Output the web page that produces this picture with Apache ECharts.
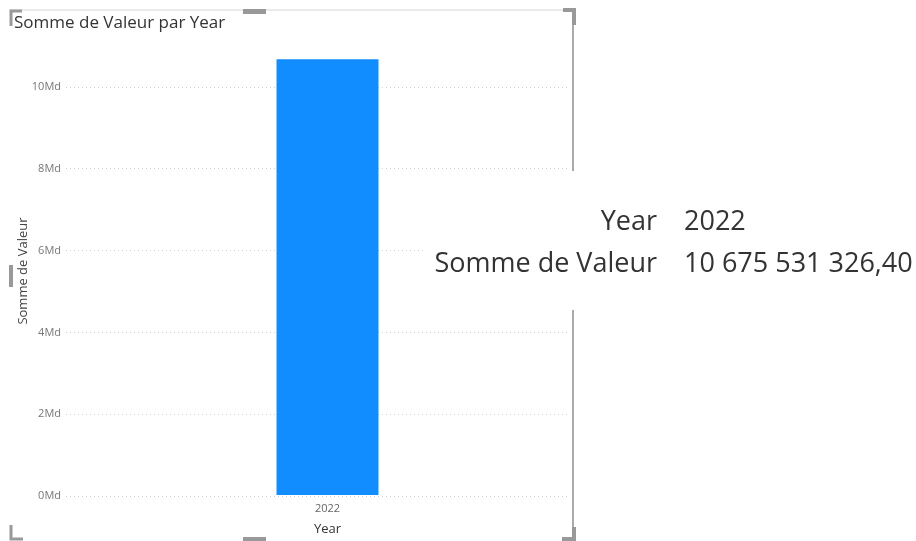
<!DOCTYPE html>
<html>
<head>
<meta charset="utf-8">
<script src="https://cdn.jsdelivr.net/npm/echarts@6/dist/echarts.min.js"></script>
<style>
  html, body { margin: 0; padding: 0; background: #fff; }
  #chart { width: 916px; height: 541px; }
</style>
</head>
<body>
<div id="chart"></div>
<script>
// Chart data
const years = ['2022'];
const sommeValeur = [10675531326.40];
const yTickStep = 2e9;
const yMax = 11e9;

const FONT = '"Segoe UI", "Open Sans", "Noto Sans", sans-serif';

// French number format: space thousands separator, comma decimals
function formatFr(v) {
  const [intPart, dec] = v.toFixed(2).split('.');
  return intPart.replace(/\B(?=(\d{3})+(?!\d))/g, ' ') + ',' + dec;
}

const chart = echarts.init(document.getElementById('chart'), null, { renderer: 'canvas' });

const gridTop = 46, gridBottom = 45;

const option = {
  animation: false,
  backgroundColor: '#ffffff',
  textStyle: { fontFamily: FONT },
  title: {
    text: 'Somme de Valeur par Year',
    left: 9, top: 10,
    textStyle: { fontFamily: FONT, fontSize: 17, fontWeight: 'normal', color: '#333333' }
  },
  grid: [
    { left: 66, right: 349, top: gridTop, bottom: gridBottom },
    { left: 88, right: 349, top: gridTop, bottom: gridBottom }
  ],
  xAxis: [
    { gridIndex: 0, type: 'category', data: years, show: false },
    {
      gridIndex: 1, type: 'category', data: years,
      axisLine: { show: false }, axisTick: { show: false },
      axisLabel: { color: '#666666', fontSize: 11, margin: 8, fontFamily: FONT },
      name: 'Year', nameLocation: 'middle', nameGap: 28,
      nameTextStyle: { color: '#333333', fontSize: 13, fontFamily: FONT }
    }
  ],
  yAxis: [
    {
      gridIndex: 0, type: 'value', min: 0, max: yMax, interval: yTickStep,
      axisLine: { show: false }, axisTick: { show: false },
      axisLabel: {
        color: '#777777', fontSize: 11, margin: 5, fontFamily: FONT, showMaxLabel: false,
        formatter: v => (v % yTickStep === 0 ? (v / 1e9) + 'Md' : '')
      },
      splitLine: { showMaxLine: false, lineStyle: { color: '#d0d0d0', type: [1, 3], width: 1 } },
      name: 'Somme de Valeur', nameLocation: 'middle', nameGap: 36, nameMoveOverlap: false,
      nameTextStyle: { color: '#444444', fontSize: 13, fontFamily: FONT }
    },
    { gridIndex: 1, type: 'value', min: 0, max: yMax, interval: yTickStep, show: false, splitLine: { show: false } }
  ],
  series: [
    {
      type: 'bar', xAxisIndex: 1, yAxisIndex: 1,
      data: sommeValeur, barWidth: 102,
      itemStyle: { color: '#118DFF' }
    }
  ],
  graphic: [
    // visual frame border
    { type: 'line', shape: { x1: 10, y1: 10, x2: 573, y2: 10 }, style: { stroke: '#d6d6d6', lineWidth: 1.2 }, z: 10 },
    { type: 'line', shape: { x1: 573, y1: 10, x2: 573, y2: 531 }, style: { stroke: '#aaaaaa', lineWidth: 2 }, z: 10 },
    // corner and side handles
    { type: 'polyline', shape: { points: [[11, 26], [11, 11], [22, 11]] }, style: { stroke: '#999999', lineWidth: 3, fill: null }, z: 11 },
    { type: 'rect', shape: { x: 243, y: 9, width: 23, height: 5 }, style: { fill: '#999999' }, z: 11 },
    { type: 'polyline', shape: { points: [[563, 10], [574, 10], [574, 25]] }, style: { stroke: '#999999', lineWidth: 4, fill: null }, z: 11 },
    { type: 'rect', shape: { x: 9, y: 265, width: 4, height: 22 }, style: { fill: '#999999' }, z: 11 },
    { type: 'polyline', shape: { points: [[11, 525], [11, 539], [23, 539]] }, style: { stroke: '#999999', lineWidth: 3, fill: null }, z: 11 },
    { type: 'rect', shape: { x: 243, y: 537, width: 23, height: 5 }, style: { fill: '#999999' }, z: 11 },
    { type: 'polyline', shape: { points: [[562, 539], [574, 539], [574, 527]] }, style: { stroke: '#999999', lineWidth: 4, fill: null }, z: 11 },
    // hover tooltip card
    { type: 'rect', shape: { x: 425, y: 171, width: 491, height: 139 }, style: { fill: '#ffffff' }, z: 20 },
    { type: 'text', x: 657, y: 222, z: 21,
      style: { text: 'Year', fontSize: 27, fontFamily: FONT, fill: '#333333', align: 'right', verticalAlign: 'middle' } },
    { type: 'text', x: 684, y: 222, z: 21,
      style: { text: years[0], fontSize: 27, fontFamily: FONT, fill: '#333333', align: 'left', verticalAlign: 'middle' } },
    { type: 'text', x: 657, y: 264, z: 21,
      style: { text: 'Somme de Valeur', fontSize: 27, fontFamily: FONT, fill: '#333333', align: 'right', verticalAlign: 'middle' } },
    { type: 'text', x: 684, y: 264, z: 21,
      style: { text: formatFr(sommeValeur[0]), fontSize: 27, fontFamily: FONT, fill: '#333333', align: 'left', verticalAlign: 'middle' } }
  ]
};

chart.setOption(option);
</script>
</body>
</html>
